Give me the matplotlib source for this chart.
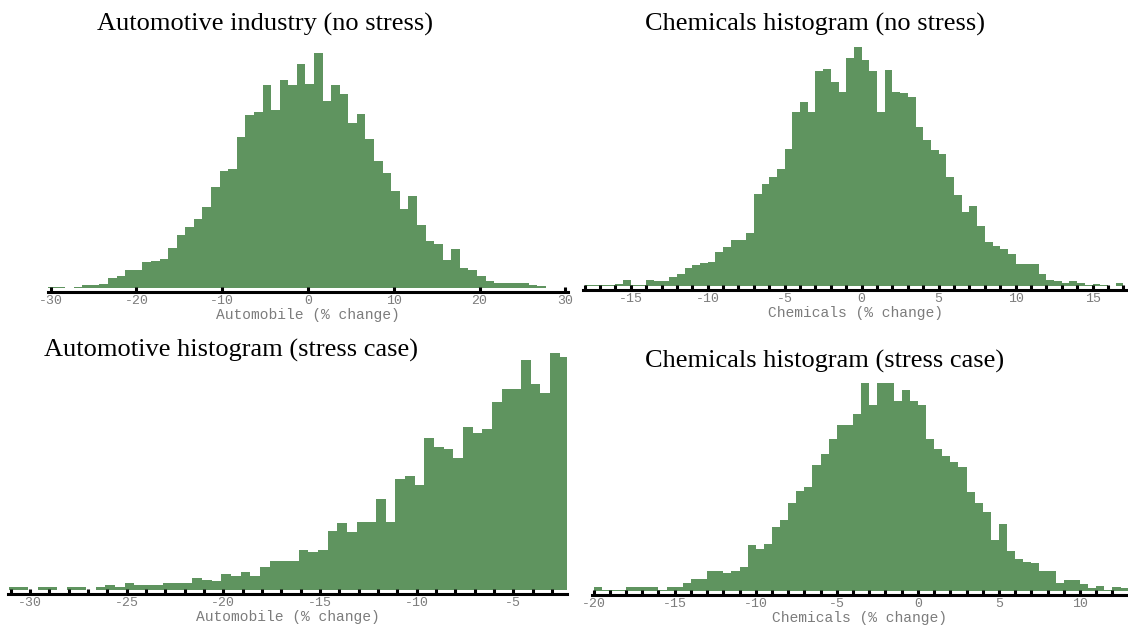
import numpy as np
import matplotlib
matplotlib.use('Agg')
import matplotlib.pyplot as plt

plt.rcParams['axes.unicode_minus'] = False

# Bin counts, left to right. Each histogram has a first bin edge and a bin width.
auto_base_counts = [3, 4, 0, 4, 9, 10, 13, 30, 38, 55, 55, 80, 82, 87,
                    122, 162, 185, 210, 245, 308, 357, 363, 458, 527, 535, 618,
                    543, 632, 618, 682, 622, 715, 570, 618, 590, 502, 528, 452,
                    385, 350, 295, 240, 280, 192, 142, 135, 85,
                    120, 60, 55, 38, 22, 16, 16, 14, 14, 10, 5]
auto_base_start, auto_base_width = -30.3, 1.0

chem_base_counts = [2, 2, 2, 2, 5, 18, 4, 4, 18, 16, 16, 26, 36, 55, 62, 68,
                    72, 100, 115, 137, 137, 157, 275, 305, 325, 350, 410, 520,
                    550, 520, 640, 647, 610, 580, 680, 713, 673, 640, 520, 645,
                    580, 577, 565, 475, 437, 405, 393, 325, 270, 220, 240, 180,
                    130, 120, 110, 95, 65, 65, 67, 35, 18, 15, 10, 14, 8, 3, 6,
                    2, 0, 10]
chem_base_start, chem_base_width = -18.0, 0.5

auto_stress_counts = [8, 8, 0, 8, 8, 0, 8, 8, 0, 8, 15, 10, 22, 15, 15, 15,
                      20, 20, 20, 35, 30, 28, 48, 42, 55, 42, 70, 88, 88, 88,
                      120, 114, 120, 180, 202, 175, 207, 207, 276, 207, 337,
                      344, 317, 459, 432, 427, 399, 494, 474, 487, 569, 609,
                      609, 697, 622, 595, 717, 704]
auto_stress_start, auto_stress_width = -31.1, 0.5

chem_stress_counts = [13, 3, 3, 3, 13, 13, 13, 13, 3, 13, 13, 25, 37, 37, 60,
                      60, 55, 60, 75, 142, 130, 143, 197, 217, 270, 305, 320,
                      387, 420, 467, 508, 508, 543, 680, 570, 690, 665, 583,
                      615, 583, 570, 467, 435, 413, 395, 380, 303, 270, 243,
                      155, 205, 123, 97, 90, 85, 60, 60, 25, 33, 33, 20, 10,
                      15, 3, 13, 10]
chem_stress_start, chem_stress_width = -20.0, 0.5

titles = ['Automotive industry (no stress)', 'Chemicals histogram (no stress)',
          'Automotive histogram (stress case)', 'Chemicals histogram (stress case)']
xlabels = ['Automobile (% change)', 'Chemicals (% change)',
           'Automobile (% change)', 'Chemicals (% change)']

W, H = 1128, 630
GREEN = '#5f945f'
LABEL_GREY = '#7c7c7c'

fig = plt.figure(figsize=(W / 100, H / 100), dpi=100)
fig.patch.set_facecolor('white')


def add_panel(counts, start, width, box, xlim, major, minor_step, xlabel, ytop=None):
    # box = (left, top, right, spine) in pixels from the top-left corner
    left, top, right, spine = box
    ax = fig.add_axes([left / W, 1 - spine / H, (right - left) / W, (spine - top) / H])
    edges = start + width * np.arange(len(counts) + 1)
    ax.stairs(counts, edges, fill=True, color=GREEN, lw=0)

    # leave a thin white strip between the bars and the axis line
    ymax = ytop if ytop else max(counts)
    gap_px = 4
    ax.set_ylim(-gap_px * ymax / ((spine - top) - gap_px), ymax)
    ax.set_xlim(*xlim)

    for side in ('left', 'right', 'top'):
        ax.spines[side].set_visible(False)
    ax.spines['bottom'].set_linewidth(2.2)
    ax.spines['bottom'].set_color('black')
    ax.set_yticks([])

    ax.set_xticks(major)
    ax.set_xticklabels([str(v) for v in major])
    if minor_step:
        ax.set_xticks(np.arange(np.ceil(xlim[0]), xlim[1], minor_step), minor=True)
    ax.tick_params(axis='x', which='both', direction='in', length=3.5, width=2.2,
                   color='black', pad=2.5, labelsize=9.5, labelcolor=LABEL_GREY)
    for lab in ax.get_xticklabels():
        lab.set_family('Liberation Mono')
    ax.set_xlabel(xlabel, family='Liberation Mono', fontsize=10.5, color=LABEL_GREY,
                  labelpad=0.5)
    ax.patch.set_alpha(0)
    return ax


add_panel(auto_base_counts, auto_base_start, auto_base_width,
          (48, 53, 568, 292), (-30.3, 30.3), list(range(-30, 31, 10)), None,
          xlabels[0])
add_panel(chem_base_counts, chem_base_start, chem_base_width,
          (583, 47, 1128, 290), (-18.1, 17.3), list(range(-15, 16, 5)), 1,
          xlabels[1])
add_panel(auto_stress_counts, auto_stress_start, auto_stress_width,
          (8, 353, 567, 594), (-31.14, -2.22), list(range(-30, -4, 5)), 1,
          xlabels[2])
add_panel(chem_stress_counts, chem_stress_start, chem_stress_width,
          (592, 383, 1128, 595), (-20.1, 12.96), list(range(-20, 11, 5)), 1,
          xlabels[3], ytop=637)

# panel headings (serif, placed in pixel coordinates)
title_pos = [(265, 24, 'center'), (815, 24, 'center'),
             (231, 357, 'baseline'), (825, 368, 'baseline')]
for text, (x, y, va) in zip(titles, title_pos):
    fig.text(x / W, 1 - y / H, text, family='Liberation Serif', fontsize=19,
             ha='center', va=va, color='black')

fig.savefig('out.png', dpi=100, facecolor='white')
